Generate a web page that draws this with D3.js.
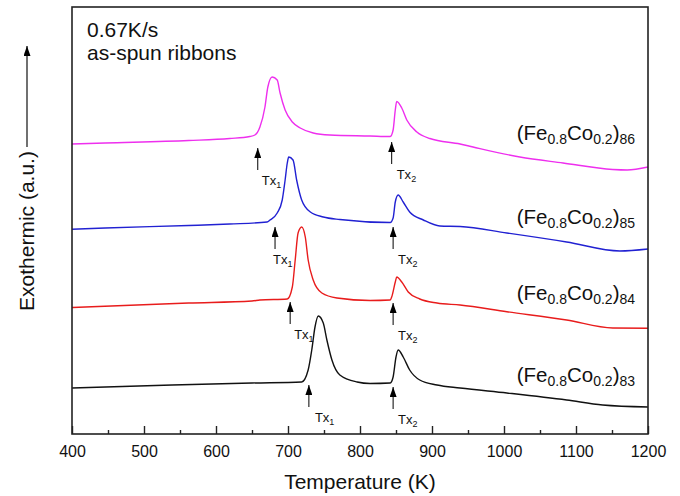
<!DOCTYPE html>
<html>
<head>
<meta charset="utf-8">
<script src="https://cdn.jsdelivr.net/npm/d3@7"></script>
<style>
  body { margin: 0; background: #fff; }
  svg { font-family: "Liberation Sans", Arial, sans-serif; }
</style>
</head>
<body>
<svg id="chart" width="680" height="496"></svg>
<script>
// DSC traces (temperature in K, signal in a.u.)
const temp86 = [400, 446, 562, 619, 647, 654, 661, 668, 672, 678, 685, 689, 696, 706, 717, 735, 758, 814, 842, 846, 849, 851, 858, 865, 879, 897, 939, 957, 1022, 1082, 1151, 1171, 1200];
const signal86 = [290, 291, 293.5, 295.5, 297.5, 299, 307, 327, 347, 357, 354, 341, 324, 312, 306, 301, 299, 298, 297.5, 304, 324, 332.5, 326, 314, 302, 295.5, 290, 287, 277, 271, 264.5, 264, 267];

const temp85 = [400, 446, 562, 619, 671, 675, 685, 692, 696, 699, 701, 707, 712, 719, 731, 749, 772, 842, 846, 849, 853, 860, 869, 888, 911, 939, 1004, 1087, 1161, 1200];
const signal85 = [204.7, 206, 208.5, 210, 212, 214, 221, 234, 254, 271, 277, 274, 254, 234, 222, 217, 214.5, 211.5, 216, 232, 239, 232, 222, 214, 208, 207.5, 201, 192, 183, 185];

const temp84 = [400, 562, 650, 661, 699, 706, 710, 714, 719, 724, 728, 735, 747, 768, 814, 842, 844, 849, 851, 858, 867, 883, 907, 939, 1004, 1087, 1151, 1200];
const signal84 = [126.5, 131, 133, 134, 135, 147, 174, 201, 207, 197, 174, 154, 141, 136, 133.5, 134, 137, 152, 157, 152, 142, 135, 131, 129, 122.3, 114, 106, 105.7];

const temp83 = [400, 539, 650, 719, 728, 733, 737.5, 742, 749, 754, 761, 772, 796, 814, 842, 846, 850, 853, 860, 869, 883, 907, 939, 1004, 1087, 1137, 1200];
const signal83 = [46, 49, 51, 52, 64, 84, 107, 118, 111, 94, 74, 59, 52, 50.5, 51, 57, 77, 84, 77, 64, 54, 49, 46, 41, 34, 29, 27];

const seriesNames = ["86", "85", "84", "83"];
const seriesColors = ["#ee2fee", "#2121d2", "#e81c1c", "#111111"];

// crystallization onsets (K) and where the arrow tips sit (a.u.)
const tx1 = [658, 682, 703, 729];
const tx2 = [844, 846, 846, 846];
const tx1Tip = [286, 207, 132, 49];
const tx2Tip = [292, 207, 131, 47];

const labelSignal = [294, 210, 134, 52];

const majorTicks = [400, 500, 600, 700, 800, 900, 1000, 1100, 1200];
const minorTicks = [450, 550, 650, 750, 850, 950, 1050, 1150];

const svg = d3.select("#chart");

const x = d3.scaleLinear().domain([400, 1200]).range([72, 648]);
const y = d3.scaleLinear().domain([0, 427]).range([434, 7]);

svg.append("defs")
  .append("marker")
  .attr("id", "head")
  .attr("viewBox", "0 -3.5 10 7")
  .attr("refX", 10)
  .attr("refY", 0)
  .attr("markerWidth", 10)
  .attr("markerHeight", 7)
  .attr("markerUnits", "userSpaceOnUse")
  .attr("orient", "auto")
  .append("path")
  .attr("d", "M0,-3.5L10,0L0,3.5Z")
  .attr("fill", "#000");

// ---- curves
const series = [
  { name: seriesNames[0], t: temp86, s: signal86 },
  { name: seriesNames[1], t: temp85, s: signal85 },
  { name: seriesNames[2], t: temp84, s: signal84 },
  { name: seriesNames[3], t: temp83, s: signal83 }
];

const line = d3.line()
  .x(d => x(d[0]))
  .y(d => y(d[1]))
  .curve(d3.curveMonotoneX);

svg.append("g")
  .selectAll("path")
  .data(series)
  .enter()
  .append("path")
  .attr("d", d => line(d.t.map((t, i) => [t, d.s[i]])))
  .attr("fill", "none")
  .attr("stroke", (d, i) => seriesColors[i])
  .attr("stroke-width", 1.4)
  .attr("stroke-linejoin", "round");

// ---- onset arrows
const arrows = [];
series.forEach((d, i) => {
  arrows.push({ t: tx1[i], tip: tx1Tip[i], sub: "1", dx: i === 1 ? -2 : (i === 3 ? 6 : 4) });
  arrows.push({ t: tx2[i], tip: tx2Tip[i], sub: "2", dx: 5 });
});

const arrowLen = 22;

const ag = svg.append("g");
arrows.forEach(a => {
  const ax = x(a.t);
  const ay = y(a.tip);
  ag.append("line")
    .attr("x1", ax).attr("x2", ax)
    .attr("y1", ay + arrowLen).attr("y2", ay)
    .attr("stroke", "#000")
    .attr("stroke-width", 1)
    .attr("marker-end", "url(#head)");
  const t = ag.append("text")
    .attr("x", ax + a.dx)
    .attr("y", ay + arrowLen + 15)
    .attr("font-size", 13)
    .attr("fill", "#111");
  t.append("tspan").text("Tx");
  t.append("tspan").attr("font-size", 9).attr("dy", 3).text(a.sub);
});

// ---- composition labels
const lg = svg.append("g");
series.forEach((d, i) => {
  const t = lg.append("text")
    .attr("x", x(1182))
    .attr("y", y(labelSignal[i]))
    .attr("text-anchor", "end")
    .attr("font-size", 20.5)
    .attr("fill", "#111");
  t.append("tspan").text("(Fe");
  t.append("tspan").attr("font-size", 14).attr("dy", 4).text("0.8");
  t.append("tspan").attr("dy", -4).text("Co");
  t.append("tspan").attr("font-size", 14).attr("dy", 4).text("0.2");
  t.append("tspan").attr("dy", -4).text(")");
  t.append("tspan").attr("font-size", 14).attr("dy", 4).text(d.name);
});

// ---- axes
const xAxis = svg.append("g")
  .attr("transform", "translate(0,434)")
  .call(d3.axisBottom(x).tickValues(majorTicks).tickSize(-8).tickPadding(12).tickFormat(d3.format("d")));
xAxis.select(".domain").remove();
xAxis.selectAll(".tick line").attr("stroke", "#222").attr("stroke-width", 1.4);
xAxis.selectAll(".tick text").attr("font-size", 16).attr("fill", "#111")
  .attr("font-family", "Liberation Sans, Arial, sans-serif");

const xMinor = svg.append("g")
  .attr("transform", "translate(0,434)")
  .call(d3.axisBottom(x).tickValues(minorTicks).tickSize(-4).tickFormat(""));
xMinor.select(".domain").remove();
xMinor.selectAll(".tick line").attr("stroke", "#222").attr("stroke-width", 1.4);

// frame
svg.append("rect")
  .attr("x", 72).attr("y", 7)
  .attr("width", 576).attr("height", 427)
  .attr("fill", "none")
  .attr("stroke", "#222")
  .attr("stroke-width", 1.6);

// ---- titles
svg.append("text")
  .attr("x", 360)
  .attr("y", 489)
  .attr("text-anchor", "middle")
  .attr("font-size", 21)
  .attr("fill", "#111")
  .text("Temperature (K)");

svg.append("text")
  .attr("transform", "translate(34,231) rotate(-90)")
  .attr("text-anchor", "middle")
  .attr("font-size", 21)
  .attr("fill", "#111")
  .text("Exothermic (a.u.)");

svg.append("line")
  .attr("x1", 27).attr("x2", 27)
  .attr("y1", 147).attr("y2", 46)
  .attr("stroke", "#111")
  .attr("stroke-width", 1.2)
  .attr("marker-end", "url(#head)");

svg.append("text")
  .attr("x", 87).attr("y", 37)
  .attr("font-size", 21)
  .attr("fill", "#111")
  .text("0.67K/s");

svg.append("text")
  .attr("x", 87).attr("y", 60)
  .attr("font-size", 21)
  .attr("fill", "#111")
  .text("as-spun ribbons");
</script>
</body>
</html>
